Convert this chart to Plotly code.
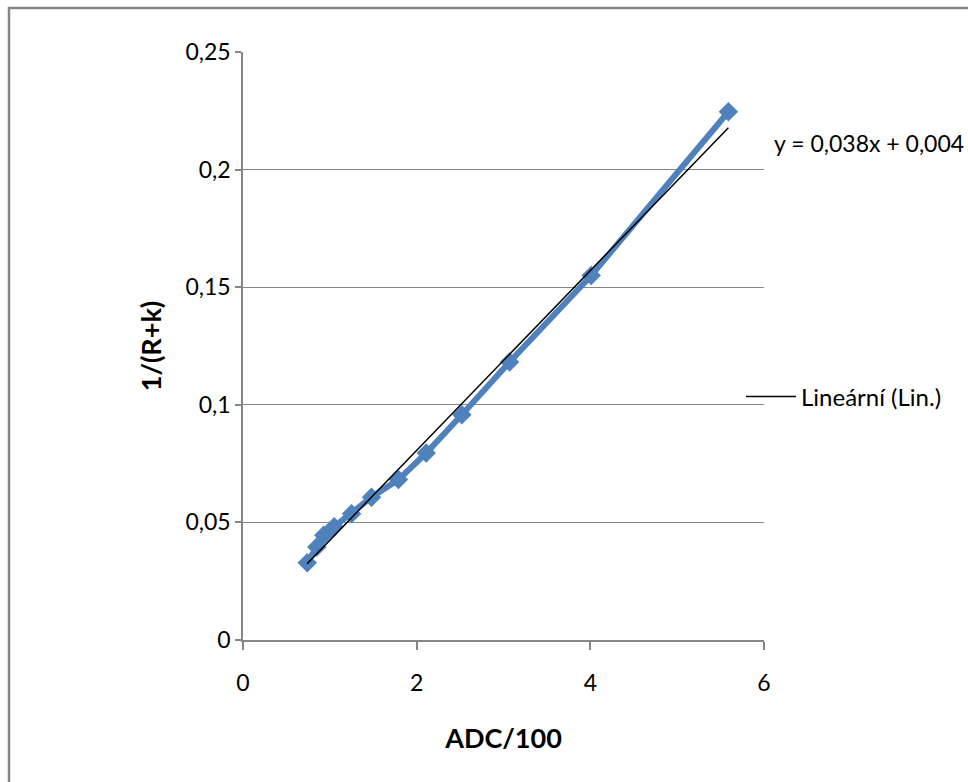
import numpy as np
import plotly.graph_objects as go

# Data
adc = [0.74, 0.85, 0.93, 1.05, 1.25, 1.48, 1.79, 2.11, 2.52, 3.07, 4.01, 5.59]
inv_rk = [0.0328, 0.0395, 0.0445, 0.0482, 0.0537, 0.0607, 0.0682, 0.0795, 0.0958, 0.1182, 0.1550, 0.2246]
x_ticks = [0, 2, 4, 6]
y_ticks = [0, 0.05, 0.10, 0.15, 0.20, 0.25]
equation_text = "y = 0,038x + 0,004"
trend_name = "Lineární (Lin.)"

W, H = 968, 782
ML, MR, MT, MB = 243, 204, 52, 142
PW, PH = W - ML - MR, H - MT - MB


def px(xp):
    return (xp - ML) / PW


def py(yp):
    return (H - MB - yp) / PH


slope, intercept = np.polyfit(adc, inv_rk, 1)
tx = [min(adc), max(adc)]
ty = [slope * v + intercept for v in tx]

blue = "#4F81BD"
gray = "#868686"
font = "Lato, Carlito, Calibri, sans-serif"

fig = go.Figure()
fig.add_trace(go.Scatter(
    x=adc, y=inv_rk, mode="lines+markers", name="data",
    line=dict(color=blue, width=6),
    marker=dict(symbol="diamond", size=15, color=blue),
    showlegend=False,
))
fig.add_trace(go.Scatter(
    x=tx, y=ty, mode="lines", name=trend_name,
    line=dict(color="black", width=1.5),
    showlegend=True,
))

fig.update_layout(
    width=W, height=H,
    margin=dict(l=ML, r=MR, t=MT, b=MB),
    paper_bgcolor="white", plot_bgcolor="white",
    separators=", ",
    font=dict(family=font, size=23, color="black"),
    showlegend=True,
    legend=dict(x=px(741), y=py(397), xanchor="left", yanchor="middle",
                bgcolor="rgba(0,0,0,0)", font=dict(size=24), itemwidth=50,
                borderwidth=0),
    xaxis=dict(range=[0, 6], tickvals=x_ticks, showgrid=False, zeroline=False,
               showline=True, linecolor=gray, linewidth=1.5,
               ticks="outside", ticklen=8, tickcolor=gray, tickwidth=1.5,
               ticklabelstandoff=14,
               title=dict(text="<b>ADC/100</b>", font=dict(size=27), standoff=34)),
    yaxis=dict(range=[0, 0.25], tickvals=y_ticks, showgrid=True, gridcolor=gray,
               gridwidth=1.3, zeroline=False, showline=True, linecolor=gray,
               linewidth=1.5, ticks="outside", ticklen=6, tickcolor=gray,
               tickwidth=1.5,
               title=dict(text="<b>1/(R+k)</b>", font=dict(size=27), standoff=16)),
)

fig.add_annotation(text=equation_text, xref="paper", yref="paper",
                   x=px(772), y=py(143), xanchor="left", yanchor="middle",
                   showarrow=False, font=dict(size=23))

fig.add_shape(type="rect", xref="paper", yref="paper",
              x0=px(9), y0=py(H + 20), x1=px(W + 20), y1=py(8),
              line=dict(color=gray, width=2.5), fillcolor="rgba(0,0,0,0)",
              layer="below")

fig.write_html("out.html")
